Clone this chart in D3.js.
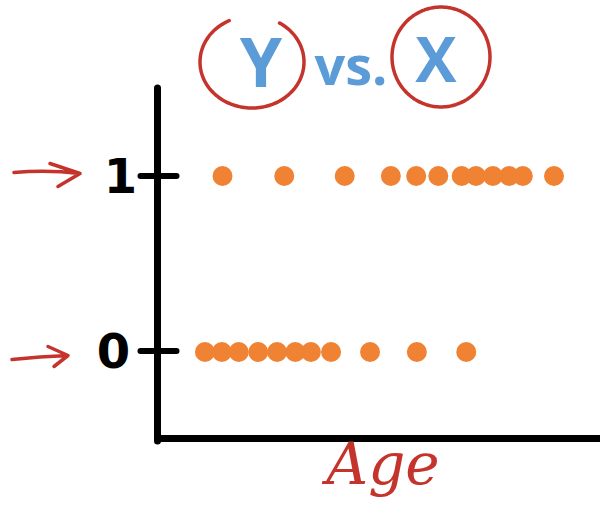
<!DOCTYPE html>
<html><head><meta charset="utf-8">
<script src="https://cdn.jsdelivr.net/npm/d3@7"></script>
<style>html,body{margin:0;padding:0;background:#fff;}svg{display:block;}</style>
</head><body>
<script>
// Data
const yesAges = [25, 34.5, 43.8, 50.9, 54.8, 58.2, 61.8, 64, 66.6, 69.1, 71.2, 76];
const noAges = [22.3, 24.9, 27.5, 30.5, 33.4, 36.2, 38.6, 41.7, 47.7, 54.9, 62.5];
const yTicks = [0, 1];
const titleParts = ["Y", "vs.", "X"];
const xLabel = "Age";

const W = 602, H = 516;
const svg = d3.select("body").append("svg").attr("width", W).attr("height", H);

const x = d3.scaleLinear().domain([15, 83]).range([157.5, 599.5]);
const y = d3.scaleLinear().domain([-0.5, 1.5]).range([438, 88]);

const orange = "#f08233", red = "#c4342c", blue = "#5b9bd8";

// axes
const yAxis = d3.axisLeft(y).tickValues(yTicks).tickFormat(d3.format("d")).tickSize(0);
const gy = svg.append("g").attr("transform", `translate(${x(15)},0)`).call(yAxis);
gy.select(".domain").remove();
gy.selectAll(".tick line").attr("x1", -17).attr("x2", 19).attr("stroke", "#000").attr("stroke-width", 6).attr("stroke-linecap", "round");
gy.selectAll(".tick text").attr("x", d => d === 1 ? -37 : -44).attr("dy", "0.36em")
  .attr("font-family", "DejaVu Sans").attr("font-weight", "bold").attr("font-size", 48).attr("fill", "#000")
  .attr("text-anchor", "middle");

const gx = svg.append("g").attr("transform", `translate(0,${y(-0.5)})`)
  .call(d3.axisBottom(x).tickValues([]).tickSizeOuter(0));
gx.select(".domain").attr("stroke", "#000").attr("stroke-width", 7);
svg.append("line").attr("x1", x(15)).attr("x2", x(15)).attr("y1", y(1.5)).attr("y2", y(-0.5) + 3)
  .attr("stroke", "#000").attr("stroke-width", 7).attr("stroke-linecap", "round");

// points
svg.append("g").selectAll("circle").data(noAges).join("circle")
  .attr("cx", d => x(d)).attr("cy", y(0) + 1.5).attr("r", 10).attr("fill", orange);
svg.append("g").selectAll("circle").data(yesAges).join("circle")
  .attr("cx", d => x(d)).attr("cy", y(1) + 0.5).attr("r", 10).attr("fill", orange);

// arrows
function arrow(x0, y0, x1, y1, h1, h2) {
  svg.append("path").attr("d", `M${x0},${y0} Q${(x0+x1)/2},${y0-3} ${x1},${y1} M${h1[0]},${h1[1]} L${x1},${y1} L${h2[0]},${h2[1]}`)
    .attr("fill", "none").attr("stroke", red).attr("stroke-width", 3.5).attr("stroke-linecap", "round").attr("stroke-linejoin", "round");
}
const a1 = y(1), a0 = y(0);
arrow(14, a1 - 3, 80, a1 - 2, [50, a1 - 12], [58, a1 + 11]);
arrow(12, a0 + 9, 68, a0 + 5, [48, a0 - 4], [54, a0 + 16]);

// title
const tf = "Open Sans";
svg.append("text").attr("x", 261).attr("y", 87).attr("text-anchor", "middle").attr("font-family", tf).attr("font-weight", 700)
  .attr("font-size", 68).attr("fill", blue).text(titleParts[0]);
svg.append("text").attr("x", 351).attr("y", 85).attr("text-anchor", "middle").attr("font-family", tf).attr("font-weight", 700)
  .attr("font-size", 54).attr("fill", blue).text(titleParts[1]);
svg.append("text").attr("x", 436).attr("y", 82).attr("text-anchor", "middle").attr("font-family", tf).attr("font-weight", 700)
  .attr("font-size", 62).attr("fill", blue).text(titleParts[2]);

function ellipse(cx, cy, rx, ry, a0, a1) {
  const pts = d3.range(a0, a1, 2).map(a => [cx + rx * Math.cos(a * Math.PI / 180), cy + ry * Math.sin(a * Math.PI / 180)]);
  svg.append("path").attr("d", d3.line().curve(d3.curveBasis)(pts)).attr("fill", "none").attr("stroke", red)
    .attr("stroke-width", 3.5).attr("stroke-linecap", "round");
}
ellipse(252, 62, 52, 46, -58, 246);
ellipse(441, 57, 49, 50, -80, 285);

// x label
svg.append("text").attr("x", 383).attr("y", 484).attr("text-anchor", "middle").attr("font-family", "DejaVu Serif")
  .attr("font-style", "italic").attr("font-size", 58).attr("fill", red).text(xLabel);
</script>
</body></html>
